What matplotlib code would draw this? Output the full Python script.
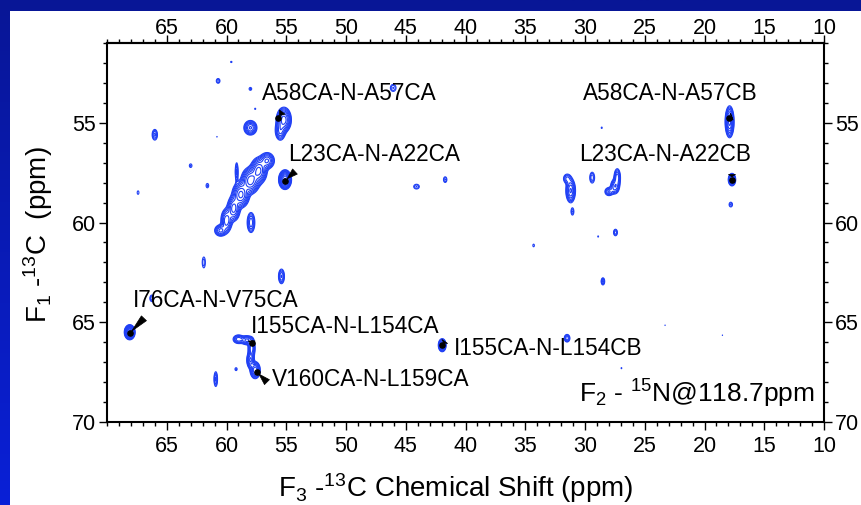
import numpy as np
import matplotlib.pyplot as plt
from matplotlib.patches import Rectangle
from matplotlib.ticker import MultipleLocator, FixedLocator

plt.rcParams['font.family'] = ['Liberation Sans', 'DejaVu Sans']
plt.rcParams['mathtext.fontset'] = 'custom'
plt.rcParams['mathtext.rm'] = 'Liberation Sans'
plt.rcParams['mathtext.it'] = 'Liberation Sans:italic'

# peak list: F3 shift, F1 shift, widths (ppm), intensity
peak_x = [59.6, 60.7, 58.0, 57.6, 60.8, 66.0, 63.0, 61.6, 67.4, 46.05,
          44.1, 41.7, 28.6, 31.05, 29.4, 27.45, 28.9, 34.3, 17.8, 61.9,
          55.4, 66.25, 28.5, 31.5, 26.95, 23.3, 18.5, 59.2, 60.9,
          55.2, 55.5, 58.0, 55.1,
          56.6, 57.3, 58.0, 58.8, 59.4, 60.0, 60.5, 59.15,
          57.95, 31.2, 31.5, 27.3, 27.5, 28.0,
          17.9, 17.7, 68.1,
          59.0, 58.3, 57.9, 58.0, 57.6, 41.95]
peak_y = [51.95, 52.9, 53.3, 54.3, 55.7, 55.6, 57.15, 58.15, 58.5, 53.25,
          58.2, 57.85, 55.25, 59.45, 57.75, 60.5, 60.7, 61.15, 59.1, 62.0,
          62.7, 63.8, 62.95, 65.8, 67.3, 65.15, 65.65, 67.35, 67.85,
          54.85, 55.4, 55.25, 57.85,
          56.9, 57.4, 57.9, 58.6, 59.3, 59.9, 60.4, 57.45,
          60.0, 58.4, 57.8, 57.75, 58.2, 58.45,
          54.95, 57.85, 65.5,
          65.85, 65.9, 66.3, 66.9, 67.4, 66.15]
peak_wx = [0.10, 0.13, 0.12, 0.08, 0.06, 0.15, 0.12, 0.12, 0.10, 0.2,
           0.2, 0.12, 0.07, 0.10, 0.15, 0.12, 0.06, 0.08, 0.12, 0.12,
           0.15, 0.12, 0.10, 0.15, 0.05, 0.04, 0.04, 0.10, 0.10,
           0.28, 0.22, 0.27, 0.22,
           0.3, 0.32, 0.35, 0.33, 0.26, 0.24, 0.26, 0.08,
           0.18, 0.2, 0.2, 0.15, 0.2, 0.2,
           0.17, 0.15, 0.18,
           0.25, 0.25, 0.15, 0.15, 0.2, 0.15]
peak_wy = [0.05, 0.1, 0.08, 0.05, 0.04, 0.18, 0.1, 0.12, 0.12, 0.15,
           0.1, 0.12, 0.06, 0.15, 0.2, 0.12, 0.05, 0.08, 0.1, 0.25,
           0.22, 0.12, 0.12, 0.12, 0.05, 0.04, 0.04, 0.08, 0.25,
           0.28, 0.25, 0.18, 0.2,
           0.2, 0.3, 0.3, 0.3, 0.3, 0.3, 0.15, 0.3,
           0.28, 0.3, 0.15, 0.25, 0.2, 0.12,
           0.36, 0.15, 0.15,
           0.12, 0.12, 0.25, 0.2, 0.2, 0.15]
peak_amp = [0.12, 0.2, 0.15, 0.12, 0.11, 0.3, 0.15, 0.15, 0.13, 0.2,
            0.2, 0.2, 0.12, 0.2, 0.25, 0.25, 0.12, 0.14, 0.2, 0.18,
            0.4, 0.25, 0.3, 0.35, 0.12, 0.11, 0.11, 0.15, 0.3,
            1.3, 0.6, 0.8, 2.2,
            0.8, 1.2, 1.3, 1.2, 0.9, 0.7, 0.6, 0.3,
            0.5, 0.8, 0.3, 0.5, 0.5, 0.4,
            1.2, 0.9, 2.5,
            0.5, 0.6, 0.7, 0.8, 1.0, 1.1]

label_text = ['A58CA-N-A57CA', 'L23CA-N-A22CA', 'A58CA-N-A57CB', 'L23CA-N-A22CB',
              'I76CA-N-V75CA', 'I155CA-N-L154CA', 'I155CA-N-L154CB', 'V160CA-N-L159CA']
label_x = [57.05, 54.85, 30.2, 30.45, 67.85, 57.95, 40.95, 56.2]
label_y = [53.55, 56.6, 53.55, 56.6, 63.9, 65.2, 66.3, 67.85]

dot_x = [55.7, 55.1, 17.95, 17.7, 68.1, 57.9, 57.45, 41.95]
dot_y = [54.75, 57.9, 54.75, 57.85, 65.55, 66.05, 67.5, 66.15]
tail_x = [55.2, 54.1, 17.5, 17.7, 66.75, 57.9, 56.45, 41.6]
tail_y = [54.35, 57.35, 54.65, 57.45, 64.7, 65.8, 68.1, 65.85]

x_ticks = [65, 60, 55, 50, 45, 40, 35, 30, 25, 20, 15, 10]
y_ticks = [55, 60, 65, 70]

# spectrum grid
xs = np.arange(9.0, 71.0, 0.025)
ys = np.arange(50.0, 71.0, 0.025)
X, Y = np.meshgrid(xs, ys)
Z = np.zeros_like(X)
for px, py, wx, wy, a in zip(peak_x, peak_y, peak_wx, peak_wy, peak_amp):
    Z += a * np.exp(-0.5 * (((X - px) / wx) ** 2 + ((Y - py) / wy) ** 2))
levels = 0.1 * 1.4 ** np.arange(12)

fig = plt.figure(figsize=(8.62, 5.05), dpi=100)

# blue slide background with white panel
bg = fig.add_axes([0, 0, 1, 1], zorder=-10)
grad = np.linspace(0, 1, 256)[:, None]
top = np.array([8, 22, 150]) / 255
bot = np.array([10, 32, 215]) / 255
img = top[None, None, :] * (1 - grad[:, :, None]) + bot[None, None, :] * grad[:, :, None]
bg.imshow(img, aspect='auto', extent=[0, 1, 0, 1])
bg.add_patch(Rectangle((10 / 862, 0), 851 / 862, 494 / 505, color='white', lw=0))
bg.set_xlim(0, 1)
bg.set_ylim(0, 1)
bg.axis('off')

ax = fig.add_axes([107 / 862, 1 - 422 / 505, 717 / 862, 379 / 505])
ax.set_facecolor('none')
ax.contour(X, Y, Z, levels=levels, colors='#2040f5', linewidths=0.8)
ax.set_xlim(70, 10)
ax.set_ylim(70, 51)

ax.xaxis.set_major_locator(FixedLocator(x_ticks))
ax.xaxis.set_minor_locator(MultipleLocator(1))
ax.yaxis.set_major_locator(FixedLocator(y_ticks))
ax.yaxis.set_minor_locator(MultipleLocator(1))
ax.tick_params(which='both', direction='out', top=False, right=True,
               labeltop=False, labelright=True, width=1.0, labelsize=15.5)
ax.tick_params(which='major', length=6, pad=4)
ax.tick_params(which='minor', length=3)
ax.tick_params(axis='y', which='major', pad=2)
for sp in ax.spines.values():
    sp.set_linewidth(1.5)

# top scale, labels sit a bit lower than the default pad gives
sec = ax.secondary_xaxis('top')
sec.xaxis.set_major_locator(FixedLocator(x_ticks))
sec.xaxis.set_minor_locator(MultipleLocator(1))
sec.tick_params(which='both', direction='out', width=1.0, labelsize=15.5)
sec.tick_params(which='major', length=6, pad=-3)
sec.tick_params(which='minor', length=3)
sec.spines['top'].set_linewidth(1.5)

for t, x, y in zip(label_text, label_x, label_y):
    ax.text(x, y, t, fontsize=16.3, ha='left', va='center')

ax.scatter(dot_x, dot_y, s=14, color='black', zorder=5)
for hx, hy, tx, ty in zip(dot_x, dot_y, tail_x, tail_y):
    ax.annotate('', xy=(hx, hy), xytext=(tx, ty),
                arrowprops=dict(arrowstyle='wedge,tail_width=0.5', color='black', lw=0.5))

ax.text(30.5, 68.6, r'F$_2$ - $^{15}$N@118.7ppm', fontsize=19, ha='left', va='center')
ax.text(0.487, -0.174, r'F$_3$ -$^{13}$C Chemical Shift (ppm)', fontsize=20,
        ha='center', va='center', transform=ax.transAxes)
ax.text(-0.096, 0.493, r'F$_1$ -$^{13}$C  (ppm)', fontsize=20, rotation=90,
        ha='center', va='center', transform=ax.transAxes)

fig.savefig('out.png', dpi=100)
